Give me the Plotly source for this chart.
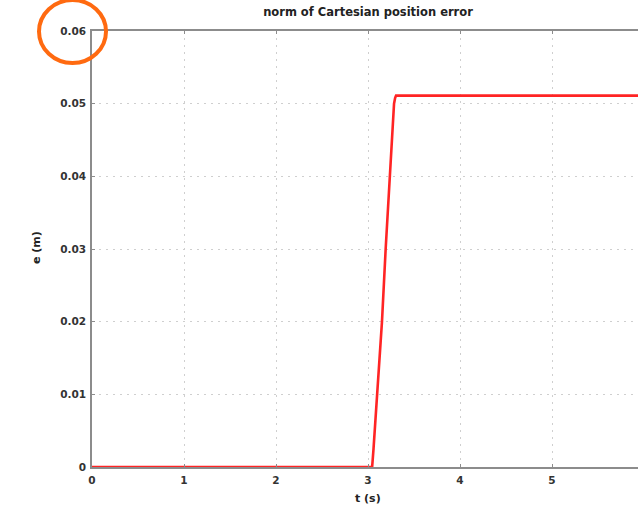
import plotly.graph_objects as go

# time samples (s) and norm of Cartesian position error (m)
t = [0.0, 3.045, 3.06, 3.075, 3.095, 3.152, 3.192, 3.239, 3.283, 3.295, 3.305, 6.0]
e = [0.0, 0.0, 0.0025, 0.0055, 0.01, 0.02, 0.03, 0.04, 0.05, 0.0508, 0.0511, 0.0511]

x_ticks = [0, 1, 2, 3, 4, 5, 6]
y_ticks = [0, 0.01, 0.02, 0.03, 0.04, 0.05, 0.06]
y_tick_text = ["0", "0.01", "0.02", "0.03", "0.04", "0.05", "0.06"]

W, H = 638, 512
L, R, T, B = 92, 0, 31, 45
plot_w = W - L - R
plot_h = H - T - B
px_per_s = 92.0

FONT = "DejaVu Sans, Arial, sans-serif"
tick_font = dict(family=FONT, size=10.5, color="#333333", weight=700)
label_font = dict(family=FONT, size=11, color="#222222", weight=700)

fig = go.Figure()
fig.add_trace(go.Scatter(
    x=t, y=e, mode="lines",
    line=dict(color="#FF2424", width=2.6),
    showlegend=False, hoverinfo="skip",
))

axis_common = dict(
    showline=True, linecolor="#8c8c8c", linewidth=1.5,
    ticks="inside", ticklen=3, tickcolor="#8c8c8c",
    showgrid=True, gridcolor="#cfcfcf", gridwidth=1, griddash="2px,5px",
    zeroline=False, tickfont=tick_font,
)

fig.update_layout(
    width=W, height=H,
    margin=dict(l=L, r=R, t=T, b=B),
    paper_bgcolor="white", plot_bgcolor="white",
    title=dict(
        text="norm of Cartesian position error",
        x=368 / W, xanchor="center", xref="container",
        y=1 - 12 / H, yanchor="middle", yref="container",
        font=dict(family=FONT, size=11.5, color="#222222", weight=700),
    ),
    xaxis=dict(
        range=[0, plot_w / px_per_s], tickvals=x_ticks,
        mirror="ticks", ticklabelstandoff=3, **axis_common,
    ),
    yaxis=dict(
        range=[0, 0.06], tickvals=y_ticks, ticktext=y_tick_text,
        ticklabelstandoff=2, **axis_common,
    ),
    annotations=[
        dict(text="t (s)", xref="paper", yref="paper",
             x=(368 - L) / plot_w, y=-(498 - (H - B)) / plot_h,
             xanchor="center", yanchor="middle", showarrow=False,
             font=label_font),
        dict(text="e (m)", xref="paper", yref="paper",
             x=-(L - 37) / plot_w, y=(H - B - 248) / plot_h,
             xanchor="center", yanchor="middle", showarrow=False, textangle=-90,
             font=label_font),
    ],
    shapes=[
        # highlight ring around the top y tick label
        dict(type="circle", xref="paper", yref="paper",
             x0=(39 - L) / plot_w, x1=(106 - L) / plot_w,
             y0=(H - B - 63) / plot_h, y1=(H - B - 0) / plot_h,
             line=dict(color="#FF6A10", width=4)),
    ],
)

fig.write_html("out.html")
